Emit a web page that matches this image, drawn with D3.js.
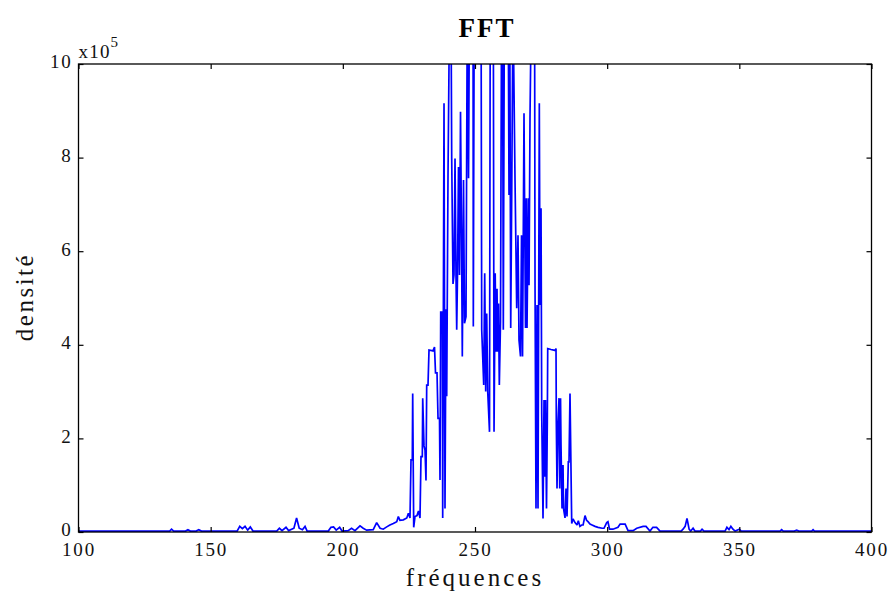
<!DOCTYPE html>
<html>
<head>
<meta charset="utf-8">
<script src="https://cdn.jsdelivr.net/npm/d3@7"></script>
<style>
  body { margin: 0; background: #fff; }
  svg { display: block; }
</style>
</head>
<body>
<svg id="chart" width="893" height="601"></svg>
<script>
// Spectrum vertices: frequency and density (density in units of 10^5)
const freqs = [
  100, 134.5, 135.2, 136, 140.5, 141.4, 142.3, 144.5, 145.5, 146.5,
  160, 161, 162, 163, 164, 165, 166, 175, 176, 177,
  178.5, 179.5, 181.5, 182.5, 183.5, 184.7, 185.7, 186.5, 194.5, 195.5,
  196.5, 197.5, 198.8, 199.7, 202, 203.3, 204.6, 206.5, 207.7, 209,
  211.5, 212.8, 214.1, 215.3, 216.6, 217.8, 219.1, 220.4, 221, 221.6,
  222.9, 224.2, 224.8, 225.41, 225.79, 226.28, 226.43, 226.81, 227.3, 228.06,
  228.63, 229.19, 229.57, 230.07, 230.22, 230.71, 231.09, 231.46, 231.73, 232.22,
  232.6, 234.11, 234.68, 235.06, 235.63, 236.01, 236.57, 236.76, 237.03, 237.63,
  237.78, 238.28, 238.65, 239.03, 239.3, 239.79, 240.36, 240.93, 241.19, 241.68,
  242.06, 242.44, 242.82, 243.08, 243.38, 243.76, 244.14, 244.52, 244.9, 245.2,
  245.65, 246.03, 246.6, 247.09, 247.55, 247.92, 249.25, 249.36, 249.74, 252.27,
  252.54, 253.3, 253.67, 254.05, 254.43, 254.81, 255.49, 255.79, 256.9, 257.2,
  257.64, 257.95, 258.33, 258.59, 258.89, 259.2, 259.65, 260.1, 260.41, 260.71,
  261.16, 262.49, 262.87, 263.13, 263.51, 263.89, 264.38, 265.14, 265.78, 266.27,
  266.65, 267.22, 267.6, 267.98, 268.54, 268.81, 269.11, 269.41, 269.68, 270.17,
  270.44, 270.81, 271.38, 272.52, 272.71, 273.08, 273.46, 273.84, 274.33, 274.6,
  274.98, 275.24, 275.73, 276.11, 276.38, 276.68, 277.05, 277.36, 277.51, 278.75,
  280.27, 280.65, 280.76, 281.03, 281.41, 281.79, 282.05, 282.36, 282.54, 282.92,
  283.3, 283.49, 284.06, 284.43, 284.81, 285.3, 285.57, 285.94, 286.59, 287.08,
  287.84, 288.6, 289.09, 289.7, 290.37, 290.9, 291.62, 292.2, 292.76, 293.5,
  294.27, 295.4, 296.54, 298.1, 298.8, 299.83, 300.3, 300.9, 302.2, 304.1,
  304.9, 306.8, 307.9, 309.8, 311.2, 313.6, 314.7, 316.2, 317.3, 318.7,
  320, 328, 328.7, 329.5, 330.2, 331, 331.6, 332.5, 333.2, 335.3,
  335.9, 336.6, 344.6, 345.3, 346.1, 346.8, 347.6, 348.4, 350, 350.7,
  365.4, 366, 366.6, 370.8, 371.7, 372.5, 377.4, 377.9, 378.4, 400
];
const densite = [
  0.02, 0.02, 0.06, 0.02, 0.02, 0.05, 0.02, 0.02, 0.05, 0.02,
  0.02, 0.12, 0.07, 0.12, 0.04, 0.11, 0.02, 0.02, 0.08, 0.03,
  0.1, 0.03, 0.08, 0.3, 0.08, 0.05, 0.12, 0.02, 0.02, 0.1,
  0.11, 0.04, 0.1, 0.02, 0.03, 0.08, 0.03, 0.13, 0.08, 0.04,
  0.05, 0.2, 0.08, 0.06, 0.11, 0.15, 0.18, 0.22, 0.33, 0.25,
  0.26, 0.3, 0.4, 0.3, 1.54, 1.54, 2.96, 0.1, 0.33, 0.35,
  0.45, 0.3, 1.61, 1.61, 2.86, 1.84, 1.75, 1.1, 3.14, 3.14,
  3.89, 3.87, 3.95, 3.4, 3.4, 2.43, 2.43, 1.11, 4.7, 4.7,
  0.3, 9.16, 0.5, 4.76, 2.9, 7.63, 11.2, 11.2, 7.98, 5.3,
  5.5, 7.98, 5.45, 4.32, 5.49, 7.8, 5.49, 8.98, 6.31, 3.75,
  7.52, 4.46, 4.6, 11.4, 7.56, 11.5, 11.8, 4.39, 12.1, 12.2,
  4.32, 3.14, 5.53, 3.0, 4.67, 3.0, 2.14, 12.0, 12.3, 2.14,
  5.53, 3.85, 5.2, 3.85, 4.88, 3.14, 4.5, 12.0, 11.6, 4.32,
  12.1, 12.4, 7.2, 11.5, 4.36, 7.2, 11.3, 7.52, 4.78, 6.34,
  4.1, 3.75, 6.34, 3.75, 8.95, 6.63, 4.36, 7.13, 4.36, 7.13,
  5.27, 8.87, 11.6, 11.9, 5.27, 0.5, 4.85, 0.5, 9.16, 4.85,
  6.92, 2.53, 0.29, 2.82, 1.18, 2.82, 0.5, 2.36, 3.92, 3.9,
  3.88, 3.92, 2.36, 0.93, 2.36, 2.86, 0.93, 2.86, 1.86, 0.5,
  1.43, 0.5, 0.3, 0.93, 0.33, 1.5, 1.5, 2.96, 0.18, 0.28,
  0.2, 0.15, 0.24, 0.12, 0.15, 0.15, 0.35, 0.25, 0.22, 0.17,
  0.15, 0.12, 0.1, 0.08, 0.08, 0.2, 0.22, 0.06, 0.06, 0.1,
  0.17, 0.17, 0.03, 0.03, 0.08, 0.12, 0.12, 0.02, 0.1, 0.1,
  0.02, 0.02, 0.06, 0.12, 0.29, 0.06, 0.02, 0.08, 0.02, 0.02,
  0.06, 0.02, 0.02, 0.1, 0.05, 0.12, 0.06, 0.02, 0.06, 0.02,
  0.02, 0.05, 0.02, 0.02, 0.04, 0.02, 0.02, 0.05, 0.02, 0.02
];
const xTicks = [100, 150, 200, 250, 300, 350, 400];
const yTicks = [0, 2, 4, 6, 8, 10];

const svg = d3.select("#chart");
const box = { left: 78.5, right: 871.5, top: 64, bottom: 532 };

const x = d3.scaleLinear().domain([100, 400]).range([box.left, box.right]);
const y = d3.scaleLinear().domain([0, 10]).range([box.bottom, box.top]);

const serif = "'Liberation Serif', 'Times New Roman', serif";

svg.append("rect").attr("width", 893).attr("height", 601).attr("fill", "#fff");

svg.append("defs").append("clipPath").attr("id", "plot-area")
  .append("rect")
  .attr("x", box.left).attr("y", box.top)
  .attr("width", box.right - box.left).attr("height", box.bottom - box.top);

// spectrum trace
const points = freqs.map((f, i) => [f, densite[i]]);
svg.append("path")
  .datum(points)
  .attr("clip-path", "url(#plot-area)")
  .attr("fill", "none")
  .attr("stroke", "#0000ff")
  .attr("stroke-width", 1.7)
  .attr("stroke-linejoin", "miter")
  .attr("stroke-miterlimit", 2)
  .attr("d", d3.line().x(d => x(d[0])).y(d => y(d[1])));

// axes with inward ticks on all four sides
function styleAxis(g, showText) {
  g.select(".domain").remove();
  g.selectAll(".tick line").attr("stroke", "#000").attr("stroke-width", 1.2);
  g.selectAll(".tick text")
    .attr("fill", "#111")
    .style("font-family", serif)
    .style("font-size", "19px")
    .style("letter-spacing", "1.8px");
  if (!showText) g.selectAll(".tick text").remove();
}

svg.append("g")
  .attr("transform", `translate(0,${box.bottom})`)
  .call(d3.axisBottom(x).tickValues(xTicks).tickSize(-5).tickPadding(11).tickFormat(d3.format("d")))
  .call(g => styleAxis(g, true));

svg.append("g")
  .attr("transform", `translate(0,${box.top})`)
  .call(d3.axisTop(x).tickValues(xTicks).tickSize(-5))
  .call(g => styleAxis(g, false));

svg.append("g")
  .attr("transform", `translate(${box.left},0)`)
  .call(d3.axisLeft(y).tickValues(yTicks).tickSize(-5).tickPadding(6).tickFormat(d3.format("d")))
  .call(g => styleAxis(g, true))
  .call(g => g.selectAll(".tick text").attr("dy", "0.2em"));

svg.append("g")
  .attr("transform", `translate(${box.right},0)`)
  .call(d3.axisRight(y).tickValues(yTicks).tickSize(-5))
  .call(g => styleAxis(g, false));

// frame
svg.append("rect")
  .attr("x", box.left).attr("y", box.top)
  .attr("width", box.right - box.left).attr("height", box.bottom - box.top)
  .attr("fill", "none").attr("stroke", "#000").attr("stroke-width", 1.3);

// exponent multiplier
const mult = svg.append("text")
  .attr("x", box.left).attr("y", 58)
  .attr("fill", "#111")
  .style("font-family", serif).style("font-size", "19px").style("letter-spacing", "1.2px");
mult.append("tspan").text("x10");
mult.append("tspan").attr("dy", -11).style("font-size", "15px").text("5");

// title and axis labels
svg.append("text")
  .attr("x", 487).attr("y", 37)
  .attr("text-anchor", "middle")
  .attr("fill", "#000")
  .style("font-family", serif).style("font-size", "27px").style("font-weight", "bold")
  .style("letter-spacing", "2px")
  .text("FFT");

svg.append("text")
  .attr("x", 475).attr("y", 586)
  .attr("text-anchor", "middle")
  .attr("fill", "#111")
  .style("font-family", serif).style("font-size", "25px").style("letter-spacing", "3px")
  .text("fréquences");

svg.append("text")
  .attr("transform", "translate(33,297) rotate(-90)")
  .attr("text-anchor", "middle")
  .attr("fill", "#111")
  .style("font-family", serif).style("font-size", "25px").style("letter-spacing", "2.5px")
  .text("densité");
</script>
</body>
</html>
